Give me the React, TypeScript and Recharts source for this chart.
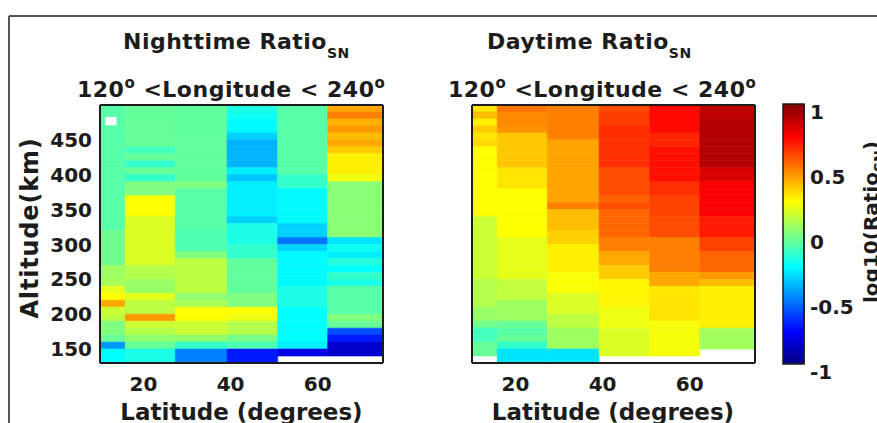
import { useMemo } from 'react';
import { ComposedChart, XAxis, YAxis, Scatter, ReferenceArea } from 'recharts';

// latitude bin edges (degrees) and altitude bin edges (km, top to bottom)
const LAT_EDGES = [10, 15.8, 27.3, 39.2, 50.8, 62.3, 75];
const ALT_EDGES = [
  500, 490, 480, 470, 460, 450, 440, 430, 420, 410,
  400, 390, 380, 370, 360, 350, 340, 330, 320, 310,
  300, 290, 280, 270, 260, 250, 240, 230, 220, 210,
  200, 190, 180, 170, 160, 150, 140, 130,
];
const LAT_TICKS = [20, 40, 60];
const ALT_TICKS = [150, 200, 250, 300, 350, 400, 450];
const CBAR_TICKS = [-1, -0.5, 0, 0.5, 1];

// log10(Ratio_SN), one array per latitude bin, rows from 500 km down to 130 km
const NIGHT_LAT_10 = [
  -0.08, -0.08, -0.08, -0.08, -0.08, -0.08, -0.08, -0.08, -0.08, -0.08,
  -0.08, -0.08, -0.08, -0.08, -0.08, -0.08, -0.08, -0.08, -0.03, -0.03,
  -0.03, -0.03, -0.03, 0.06, 0.06, 0.08, 0.2, 0.25, 0.42, 0.15,
  0.12, 0, 0, -0.05, -0.45, -0.25, -0.25,
];
const NIGHT_LAT_21 = [
  -0.05, -0.05, -0.05, -0.05, -0.05, -0.05, -0.12, -0.05, -0.15, -0.05,
  -0.15, 0, 0, 0.25, 0.25, 0.25, 0.18, 0.18, 0.18, 0.18,
  0.18, 0.18, 0.18, 0.1, 0.1, 0.05, 0.05, 0.2, 0.12, 0.12,
  0.45, 0.15, 0.1, 0.03, -0.05, -0.2, -0.2,
];
const NIGHT_LAT_33 = [
  -0.06, -0.06, -0.06, -0.06, -0.06, -0.06, -0.06, -0.06, -0.06, -0.06,
  -0.06, 0, -0.08, -0.08, -0.08, -0.08, -0.08, -0.08, -0.1, -0.1,
  -0.1, 0, 0.12, 0.12, 0.12, 0.12, 0.12, 0.03, 0.08, 0.25,
  0.25, 0.15, 0.15, 0.03, -0.15, -0.5, -0.5,
];
const NIGHT_LAT_45 = [
  -0.2, -0.22, -0.26, -0.26, -0.34, -0.4, -0.4, -0.4, -0.4, -0.28,
  -0.36, -0.28, -0.28, -0.28, -0.28, -0.28, -0.34, -0.2, -0.2, -0.2,
  -0.15, -0.15, -0.06, -0.06, -0.06, -0.06, -0.06, 0, 0, 0.25,
  0.22, 0.1, 0.1, -0.02, -0.1, -0.7, -0.7,
];
const NIGHT_LAT_57 = [
  -0.08, -0.08, -0.08, -0.08, -0.08, -0.08, -0.08, -0.08, -0.08, -0.08,
  -0.15, -0.15, -0.26, -0.26, -0.26, -0.26, -0.26, -0.34, -0.34, -0.52,
  -0.33, -0.26, -0.26, -0.26, -0.26, -0.26, -0.2, -0.2, -0.2, -0.25,
  -0.25, -0.25, -0.25, -0.25, -0.28, -0.8, null,
];
const NIGHT_LAT_68 = [
  0.42, 0.5, 0.4, 0.45, 0.38, 0.42, 0.35, 0.28, 0.28, 0.28,
  0.22, 0.02, 0.02, 0.02, 0.02, 0.02, 0.02, 0.02, 0.02, -0.3,
  -0.22, -0.28, -0.18, -0.25, -0.15, -0.2, -0.08, -0.08, -0.08, -0.08,
  0, -0.05, -0.6, -0.7, -0.85, -0.85, null,
];

const DAY_LAT_10 = [
  0.3, 0.38, 0.28, 0.35, 0.3, 0.32, 0.25, 0.25, 0.25, 0.25,
  0.25, 0.25, 0.25, 0.25, 0.25, 0.25, 0.15, 0.15, 0.15, 0.15,
  0.15, 0.15, 0.15, 0.15, 0.15, 0.1, 0.1, 0.1, 0.1, 0.05,
  0.05, -0.03, -0.12, -0.12, -0.05, -0.05, null,
];
const DAY_LAT_21 = [
  0.52, 0.48, 0.48, 0.46, 0.36, 0.36, 0.36, 0.36, 0.36, 0.3,
  0.3, 0.3, 0.25, 0.25, 0.25, 0.25, 0.25, 0.25, 0.25, 0.2,
  0.2, 0.2, 0.2, 0.2, 0.2, 0.13, 0.13, 0.13, 0.06, 0.06,
  0.06, -0.05, -0.08, -0.05, -0.15, -0.3, -0.3,
];
const DAY_LAT_33 = [
  0.5, 0.5, 0.5, 0.5, 0.5, 0.43, 0.43, 0.43, 0.43, 0.43,
  0.43, 0.43, 0.43, 0.43, 0.5, 0.38, 0.38, 0.38, 0.34, 0.34,
  0.28, 0.28, 0.28, 0.28, 0.24, 0.24, 0.24, 0.18, 0.18, 0.18,
  0.12, 0.12, 0.06, 0.06, 0.06, -0.3, -0.3,
];
const DAY_LAT_45 = [
  0.6, 0.63, 0.63, 0.66, 0.66, 0.66, 0.66, 0.66, 0.66, 0.6,
  0.6, 0.6, 0.6, 0.56, 0.6, 0.55, 0.55, 0.55, 0.55, 0.5,
  0.5, 0.42, 0.42, 0.35, 0.35, 0.27, 0.27, 0.27, 0.27, 0.22,
  0.22, 0.22, 0.18, 0.18, 0.18, 0.18, null,
];
const DAY_LAT_57 = [
  0.73, 0.73, 0.73, 0.73, 0.68, 0.68, 0.72, 0.72, 0.72, 0.72,
  0.72, 0.66, 0.66, 0.62, 0.62, 0.62, 0.6, 0.6, 0.6, 0.5,
  0.5, 0.5, 0.5, 0.5, 0.42, 0.42, 0.3, 0.3, 0.3, 0.3,
  0.3, 0.23, 0.23, 0.23, 0.23, 0.23, null,
];
const DAY_LAT_68 = [
  0.88, 0.88, 0.9, 0.9, 0.9, 0.9, 0.9, 0.9, 0.9, 0.82,
  0.82, 0.76, 0.76, 0.76, 0.76, 0.76, 0.7, 0.7, 0.7, 0.62,
  0.62, 0.55, 0.55, 0.55, 0.45, 0.38, 0.28, 0.28, 0.28, 0.28,
  0.28, 0.28, 0.07, 0.07, 0.07, null, null,
];

const NIGHT_COLS = [NIGHT_LAT_10, NIGHT_LAT_21, NIGHT_LAT_33, NIGHT_LAT_45, NIGHT_LAT_57, NIGHT_LAT_68];
const DAY_COLS = [DAY_LAT_10, DAY_LAT_21, DAY_LAT_33, DAY_LAT_45, DAY_LAT_57, DAY_LAT_68];

// missing-data patch near the top left of the nighttime panel
const NIGHT_GAPS = [{ lat1: 11.2, lat2: 13.8, alt1: 471, alt2: 483 }];

const FONT = 'DejaVu Sans';
const INK = '#1c1c1c';
const TICK_STYLE = { fill: INK, fontSize: 20, fontWeight: 'bold', fontFamily: FONT };
const FRAME_LINE = { stroke: INK, strokeWidth: 2 };

const PANEL_W = 400;
const PANEL_H = 423;
const PANEL_MARGIN = { top: 105, right: 17, bottom: 0, left: 40 };
// overlay has 1px top/right axes, so shift margins to keep the same plot box
const FRAME_MARGIN = { top: 104, right: 16, bottom: 0, left: 40 };

function jet(v: number) {
  const t = (v + 1) / 2;
  const c = (x: number) => Math.round(255 * Math.max(0, Math.min(1, x)));
  const r = c(Math.min(4 * t - 1.5, -4 * t + 4.5));
  const g = c(Math.min(4 * t - 0.5, -4 * t + 3.5));
  const b = c(Math.min(4 * t + 0.5, -4 * t + 2.5));
  return `rgb(${r},${g},${b})`;
}

interface Gap { lat1: number; lat2: number; alt1: number; alt2: number }

function Panel({ cols, gaps, showAltLabels, left }: {
  cols: (number | null)[][];
  gaps: Gap[];
  showAltLabels: boolean;
  left: number;
}) {
  const cells = useMemo(() => {
    const out: { lat: number; alt: number; x1: number; x2: number; y1: number; y2: number; v: number }[] = [];
    cols.forEach((col, c) => {
      col.forEach((v, r) => {
        if (v === null) return;
        const x1 = LAT_EDGES[c], x2 = LAT_EDGES[c + 1];
        const y1 = ALT_EDGES[r + 1], y2 = ALT_EDGES[r];
        out.push({ lat: (x1 + x2) / 2, alt: (y1 + y2) / 2, x1, x2, y1, y2, v });
      });
    });
    return out;
  }, [cols]);

  return (
    <div style={{ position: 'absolute', left, top: 0, width: PANEL_W, height: PANEL_H }}>
      {/* heatmap cells + tick labels */}
      <div style={{ position: 'absolute', left: 0, top: 0 }}>
        <ComposedChart width={PANEL_W} height={PANEL_H} margin={PANEL_MARGIN}>
          <XAxis type="number" dataKey="lat" domain={[10, 75]} ticks={LAT_TICKS} allowDataOverflow height={60}
            tickSize={0} tickMargin={14} tick={TICK_STYLE} axisLine={false} tickLine={false} />
          <YAxis type="number" dataKey="alt" domain={[130, 500]} ticks={ALT_TICKS} allowDataOverflow width={60}
            tickSize={0} tickMargin={8} tick={showAltLabels ? TICK_STYLE : false} axisLine={false} tickLine={false} />
          {cells.map((d, i) => (
            <ReferenceArea
              key={i}
              x1={d.x1}
              x2={d.x2}
              y1={d.y1}
              y2={d.y2}
              fill={jet(d.v)}
              fillOpacity={1}
              stroke={jet(d.v)}
              strokeWidth={0.6}
            />
          ))}
          {gaps.map((g, i) => (
            <ReferenceArea key={`gap${i}`} x1={g.lat1} x2={g.lat2} y1={g.alt1} y2={g.alt2} fill="#fff" fillOpacity={1} stroke="none" />
          ))}
          <Scatter data={cells} shape={() => <g />} isAnimationActive={false} />
        </ComposedChart>
      </div>
      {/* same scales again on top: box on all four sides with inward ticks */}
      <div style={{ position: 'absolute', left: 0, top: 0 }}>
        <ComposedChart width={PANEL_W} height={PANEL_H} margin={FRAME_MARGIN}>
          <XAxis type="number" dataKey="lat" domain={[10, 75]} ticks={LAT_TICKS} height={60}
            tick={false} tickSize={-4} axisLine={FRAME_LINE} tickLine={FRAME_LINE} />
          <XAxis xAxisId="top" orientation="top" type="number" dataKey="lat" domain={[10, 75]} ticks={LAT_TICKS} height={1}
            tick={false} tickSize={-4} axisLine={FRAME_LINE} tickLine={FRAME_LINE} />
          <YAxis type="number" dataKey="alt" domain={[130, 500]} ticks={ALT_TICKS} width={60}
            tick={false} tickSize={-4} axisLine={FRAME_LINE} tickLine={FRAME_LINE} />
          <YAxis yAxisId="right" orientation="right" type="number" dataKey="alt" domain={[130, 500]} ticks={ALT_TICKS} width={1}
            tick={false} tickSize={-4} axisLine={FRAME_LINE} tickLine={FRAME_LINE} />
          <Scatter data={cells} fill="none" isAnimationActive={false} />
          <Scatter data={cells} xAxisId="top" yAxisId="right" fill="none" isAnimationActive={false} />
        </ComposedChart>
      </div>
    </div>
  );
}

const CBAR_MARGIN = { top: 104, right: 0, bottom: 59, left: 23 };

function Colorbar() {
  return (
    <div style={{ position: 'absolute', left: 760, top: 0, width: 117, height: 423 }}>
      <div style={{ position: 'absolute', left: 0, top: 0 }}>
        <ComposedChart width={117} height={423} margin={CBAR_MARGIN}>
          <XAxis type="number" dataKey="x" domain={[0, 1]} hide height={0} />
          <YAxis
            orientation="right"
            type="number"
            dataKey="y"
            domain={[-1, 1]}
            ticks={CBAR_TICKS}
            width={73}
            tickSize={0}
            tickMargin={6}
            axisLine={false}
            tickLine={false}
            tick={(p: any) => (
              <text x={p.x} y={p.y + 15} textAnchor="start" fill={INK} fontSize={20} fontWeight="bold" fontFamily={FONT}>
                {p.payload.value}
              </text>
            )}
          />
          <ReferenceArea x1={0} x2={1} y1={-1} y2={1} fill="url(#jetGradient)" fillOpacity={1} stroke={INK} strokeWidth={1.5} />
          <Scatter data={[{ x: 0.5, y: 0 }]} shape={() => <g />} isAnimationActive={false} />
        </ComposedChart>
      </div>
      <div style={{ position: 'absolute', left: 0, top: 0 }}>
        <ComposedChart width={117} height={423} margin={CBAR_MARGIN}>
          <XAxis type="number" dataKey="x" domain={[0, 1]} hide height={0} />
          <YAxis orientation="right" type="number" dataKey="y" domain={[-1, 1]} ticks={CBAR_TICKS} width={73}
            tick={false} tickSize={-3} axisLine={{ stroke: INK, strokeWidth: 1.5 }} tickLine={FRAME_LINE} />
          <Scatter data={[{ x: 0.5, y: 0 }]} fill="none" isAnimationActive={false} />
        </ComposedChart>
      </div>
    </div>
  );
}

function Titles() {
  const big = { fontSize: 22, fontWeight: 'bold' as const, fontFamily: FONT, fill: INK, letterSpacing: 0.5 };
  return (
    <svg width={877} height={423} style={{ position: 'absolute', left: 0, top: 0, pointerEvents: 'none' }}>
      <line x1={9} y1={16} x2={877} y2={16} stroke="#555" strokeWidth={2} />
      <line x1={9} y1={16} x2={9} y2={423} stroke="#555" strokeWidth={2} />

      <text x={123} y={49} {...big}>
        Nighttime Ratio<tspan fontSize={14} dy={9}>SN</tspan>
      </text>
      <text x={77} y={97} {...big}>
        120<tspan fontSize={15} dy={-9}>o</tspan>
        <tspan dy={9}> &lt;Longitude &lt; 240</tspan>
        <tspan fontSize={15} dy={-9}>o</tspan>
      </text>

      <text x={487} y={49} {...big}>
        Daytime Ratio<tspan fontSize={14} dy={9}>SN</tspan>
      </text>
      <text x={448} y={97} {...big}>
        120<tspan fontSize={15} dy={-9}>o</tspan>
        <tspan dy={9}> &lt;Longitude &lt; 240</tspan>
        <tspan fontSize={15} dy={-9}>o</tspan>
      </text>

      <text x={38} y={228} transform="rotate(-90 38 228)" textAnchor="middle" fontSize={24} fontWeight="bold" fontFamily={FONT} fill={INK} letterSpacing={0.8}>
        Altitude(km)
      </text>
      <text x={241.5} y={420} textAnchor="middle" fontSize={23} fontWeight="bold" fontFamily={FONT} fill={INK}>
        Latitude (degrees)
      </text>
      <text x={613} y={420} textAnchor="middle" fontSize={23} fontWeight="bold" fontFamily={FONT} fill={INK}>
        Latitude (degrees)
      </text>
      <text x={878} y={303} transform="rotate(-90 878 303)" textAnchor="start" fontSize={20} fontWeight="bold" fontFamily={FONT} fill={INK}>
        log10(Ratio<tspan fontSize={14} dy={6}>SN</tspan><tspan dy={-6}>)</tspan>
      </text>
    </svg>
  );
}

export default function App() {
  return (
    <div style={{ position: 'absolute', left: 0, top: 0, width: 877, height: 423, overflow: 'hidden', background: '#fff' }}>
      <svg width={0} height={0} style={{ position: 'absolute' }}>
        <defs>
          <linearGradient id="jetGradient" x1="0" y1="0" x2="0" y2="1">
            <stop offset="0%" stopColor="#800000" />
            <stop offset="12.5%" stopColor="#ff0000" />
            <stop offset="37.5%" stopColor="#ffff00" />
            <stop offset="62.5%" stopColor="#00ffff" />
            <stop offset="87.5%" stopColor="#0000ff" />
            <stop offset="100%" stopColor="#000080" />
          </linearGradient>
        </defs>
      </svg>
      <Titles />
      <Panel cols={NIGHT_COLS} gaps={NIGHT_GAPS} showAltLabels left={0} />
      <Panel cols={DAY_COLS} gaps={[]} showAltLabels={false} left={372} />
      <Colorbar />
    </div>
  );
}
